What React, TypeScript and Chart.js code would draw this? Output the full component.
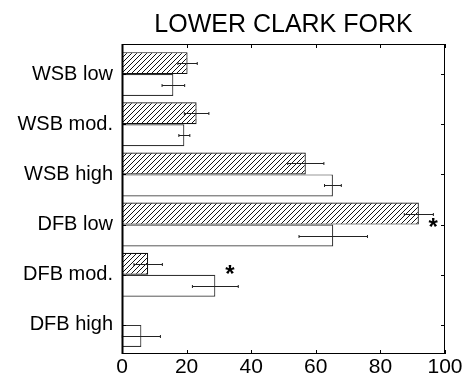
import React, { useEffect, useRef } from 'react';
import { Chart, registerables } from 'chart.js';

Chart.register(...registerables);

const title = 'LOWER CLARK FORK';
const categories = ['WSB low', 'WSB mod.', 'WSB high', 'DFB low', 'DFB mod.', 'DFB high'];
const hatchedValues = [20.3, 23.1, 56.9, 91.9, 8.1, 0.3];
const hatchedErrors = [3.0, 3.8, 5.6, 4.5, 4.4, 0];
const whiteValues = [15.9, 19.3, 65.3, 65.4, 28.9, 6.0];
const whiteErrors = [3.5, 1.7, 2.6, 10.6, 7.1, 5.9];
const xTicks = [0, 20, 40, 60, 80, 100];
// significance markers: category and value position along the x axis
const starCategories = ['DFB low', 'DFB mod.'];
const starValues = [96.3, 33.4];
const starOffsets = [-0.07, -0.12];

const FONT = '"Liberation Sans", Arial, Helvetica, sans-serif';

function makeHatch(): CanvasPattern | string {
  const s = 5;
  const c = document.createElement('canvas');
  c.width = s;
  c.height = s;
  const g = c.getContext('2d');
  if (!g) return '#888';
  g.fillStyle = '#fff';
  g.fillRect(0, 0, s, s);
  g.strokeStyle = '#111';
  g.lineWidth = 1;
  g.beginPath();
  g.moveTo(0, s);
  g.lineTo(s, 0);
  g.moveTo(-1, 1);
  g.lineTo(1, -1);
  g.moveTo(s - 1, s + 1);
  g.lineTo(s + 1, s - 1);
  g.stroke();
  const p = g.createPattern(c, 'repeat');
  return p || '#888';
}

const decorPlugin = {
  id: 'decor',
  afterDatasetsDraw(chart: any) {
    const { ctx, chartArea, scales } = chart;
    const xs = scales.x;
    const ys = scales.y;
    ctx.save();
    // error bars
    const errs = [hatchedErrors, whiteErrors];
    const vals = [hatchedValues, whiteValues];
    ctx.strokeStyle = '#222';
    ctx.lineWidth = 1;
    for (let d = 0; d < 2; d++) {
      const meta = chart.getDatasetMeta(d);
      meta.data.forEach((el: any, i: number) => {
        const e = errs[d][i];
        if (!e) return;
        const v = vals[d][i];
        const x1 = xs.getPixelForValue(Math.max(0, v - e));
        const x2 = xs.getPixelForValue(v + e);
        const y = Math.round(el.y) + 0.5;
        ctx.beginPath();
        ctx.moveTo(x1, y);
        ctx.lineTo(x2, y);
        if (v - e > 0) {
          ctx.moveTo(x1, y - 1.5);
          ctx.lineTo(x1, y + 1.5);
        }
        ctx.moveTo(x2, y - 1.5);
        ctx.lineTo(x2, y + 1.5);
        ctx.stroke();
      });
    }
    // box
    const L = chartArea.left, R = chartArea.right, T = chartArea.top, B = chartArea.bottom;
    ctx.strokeStyle = '#000';
    ctx.lineWidth = 1;
    ctx.beginPath();
    ctx.moveTo(L, T + 0.5);
    ctx.lineTo(R, T + 0.5);
    ctx.moveTo(R - 0.5, T);
    ctx.lineTo(R - 0.5, B);
    ctx.moveTo(L, B - 0.5);
    ctx.lineTo(R, B - 0.5);
    // inner ticks
    xTicks.forEach((t) => {
      const x = Math.round(xs.getPixelForValue(t)) + 0.5;
      ctx.moveTo(x, T);
      ctx.lineTo(x, T + 4);
      ctx.moveTo(x, B);
      ctx.lineTo(x, B - 4);
    });
    categories.forEach((_, i) => {
      const y = Math.round(ys.getPixelForValue(i + 1)) + 0.5;
      ctx.moveTo(R, y);
      ctx.lineTo(R - 4, y);
      ctx.moveTo(L, y);
      ctx.lineTo(L + 4, y);
    });
    ctx.stroke();
    ctx.lineWidth = 2;
    ctx.beginPath();
    ctx.moveTo(L + 0.5, T);
    ctx.lineTo(L + 0.5, B);
    ctx.stroke();
    // stars
    ctx.fillStyle = '#000';
    ctx.font = 'bold 24px ' + FONT;
    ctx.textAlign = 'center';
    ctx.textBaseline = 'alphabetic';
    starCategories.forEach((c, k) => {
      const idx = categories.indexOf(c);
      const x = xs.getPixelForValue(starValues[k]);
      const y = ys.getPixelForValue(idx + 1 + starOffsets[k]);
      ctx.fillText('*', x, y + 0.57 * 24);
    });
    // title
    ctx.font = '25px ' + FONT;
    ctx.fillText(title, (L + R) / 2, 32);
    ctx.restore();
  },
};

export default function App() {
  const ref = useRef<HTMLCanvasElement>(null);
  useEffect(() => {
    if (!ref.current) return;
    const hatch = makeHatch();
    const chart = new Chart(ref.current, {
      type: 'bar',
      data: {
        datasets: [
          {
            label: 'hatched',
            data: hatchedValues.map((v, i) => ({ x: v, y: i + 1 })),
            backgroundColor: hatch as any,
            borderColor: '#111',
            borderWidth: 1.2,
            barPercentage: 1,
            categoryPercentage: 0.876,
          },
          {
            label: 'open',
            data: whiteValues.map((v, i) => ({ x: v, y: i + 1 })),
            backgroundColor: '#fff',
            borderColor: '#333',
            borderWidth: 1.2,
            barPercentage: 1,
            categoryPercentage: 0.876,
          },
        ],
      },
      options: {
        indexAxis: 'y',
        animation: false,
        responsive: false,
        layout: { padding: { top: 44, right: 24, left: 0, bottom: 0 } },
        plugins: { legend: { display: false }, tooltip: { enabled: false }, title: { display: false } },
        scales: {
          x: {
            type: 'linear',
            min: 0,
            max: 100,
            ticks: { stepSize: 20, color: '#000', padding: 1, font: { family: FONT, size: 21 } },
            grid: { display: false, drawTicks: false },
            border: { display: false },
            afterFit: (s: any) => { s.height = 27; },
          },
          y: {
            type: 'linear',
            reverse: true,
            offset: false,
            min: 0.4,
            max: 6.58,
            afterBuildTicks: (s: any) => { s.ticks = categories.map((_, i) => ({ value: i + 1 })); },
            ticks: {
              color: '#000',
              padding: 9,
              font: { family: FONT, size: 20 },
              callback: (v: any) => categories[Number(v) - 1] ?? '',
            },
            grid: { display: false, drawTicks: false },
            border: { display: false },
            afterFit: (s: any) => { s.width = 122; },
          },
        },
      } as any,
      plugins: [decorPlugin],
    });
    return () => chart.destroy();
  }, []);
  return (
    <div style={{ position: 'absolute', left: 0, top: 0, width: 469, height: 381, background: '#fff' }}>
      <canvas ref={ref} width={469} height={381} style={{ display: 'block' }} />
    </div>
  );
}
